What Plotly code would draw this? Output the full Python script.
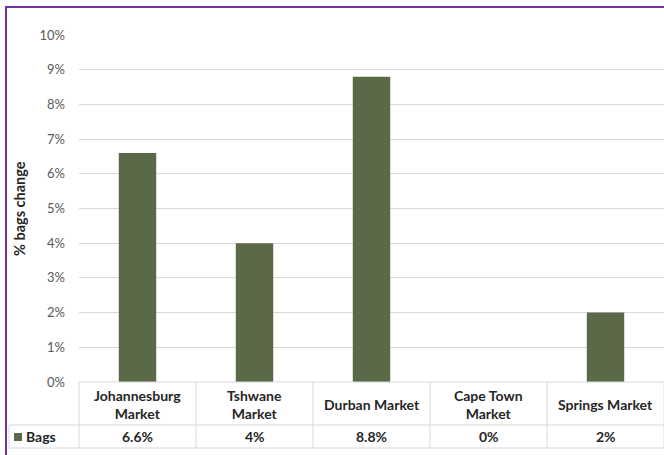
import plotly.graph_objects as go

categories = ["Johannesburg<br>Market", "Tshwane<br>Market", "Durban Market", "Cape Town<br>Market", "Springs Market"]
values = [6.6, 4, 8.8, 0, 2]
value_labels = ["6.6%", "4%", "8.8%", "0%", "2%"]
series_name = "Bags"
y_ticks = [0, 1, 2, 3, 4, 5, 6, 7, 8, 9, 10]

BAR = "#5A6A48"
GRID = "#D9D9D9"
PURPLE = "#7030A0"
TXT = "#262626"
FONT = "Lato, 'Open Sans', sans-serif"

W, H = 664, 455
L, R, T, B = 79, 0, 35, 73
pw, ph = W - L - R, H - T - B

def px_x(x):
    return (x - L) / pw

def px_y(y):
    return (H - B - y) / ph

x_idx = list(range(len(categories)))

fig = go.Figure()
fig.add_trace(go.Bar(
    x=x_idx, y=values, name=series_name,
    marker=dict(color=BAR, line=dict(width=0)),
    width=0.32, showlegend=False,
))

fig.update_layout(
    width=W, height=H,
    margin=dict(l=L, r=R, t=T, b=B),
    plot_bgcolor="white", paper_bgcolor="white",
    font=dict(family=FONT, size=12, color="#595959"),
    xaxis=dict(range=[-0.5, len(categories) - 0.5], showticklabels=False,
               showgrid=False, zeroline=False, showline=False, ticks=""),
    yaxis=dict(range=[0, 10], tickvals=y_ticks, ticktext=[f"{v}%" for v in y_ticks],
               showgrid=True, gridcolor=GRID, gridwidth=1, zeroline=False,
               showline=False, ticks="", ticklabelstandoff=13,
               tickfont=dict(size=13, color="#595959")),
)

shapes = []
row1_top = H - B
row1_bot = 425
row2_bot = 448
for yy, x0 in [(row1_top, L), (row1_bot, 9), (row2_bot, 9)]:
    shapes.append(dict(type="line", xref="paper", yref="paper",
                       x0=px_x(x0), x1=1, y0=px_y(yy), y1=px_y(yy),
                       line=dict(color=GRID, width=1)))
for i in range(len(categories) + 1):
    xx = L + i * pw / len(categories)
    shapes.append(dict(type="line", xref="paper", yref="paper",
                       x0=px_x(xx), x1=px_x(xx), y0=px_y(row1_top), y1=px_y(row2_bot),
                       line=dict(color=GRID, width=1)))
shapes.append(dict(type="line", xref="paper", yref="paper",
                   x0=px_x(9), x1=px_x(9), y0=px_y(row1_bot), y1=px_y(row2_bot),
                   line=dict(color=GRID, width=1)))
# legend key square
shapes.append(dict(type="rect", xref="paper", yref="paper",
                   x0=px_x(14), x1=px_x(22), y0=px_y(441), y1=px_y(433),
                   fillcolor=BAR, line=dict(width=0)))
# purple border
shapes.append(dict(type="line", xref="paper", yref="paper",
                   x0=px_x(6), x1=px_x(6), y0=px_y(6), y1=px_y(460),
                   line=dict(color=PURPLE, width=2)))
shapes.append(dict(type="line", xref="paper", yref="paper",
                   x0=px_x(5), x1=px_x(670), y0=px_y(7), y1=px_y(7),
                   line=dict(color=PURPLE, width=2)))

annotations = []
for i, (c, v) in enumerate(zip(categories, value_labels)):
    annotations.append(dict(x=i, xref="x", y=px_y(404), yref="paper", text=f"<b>{c}</b>",
                            showarrow=False, font=dict(size=14, color=TXT, family=FONT),
                            xanchor="center", yanchor="middle"))
    annotations.append(dict(x=i, xref="x", y=px_y(437), yref="paper", text=f"<b>{v}</b>",
                            showarrow=False, font=dict(size=14, color=TXT, family=FONT),
                            xanchor="center", yanchor="middle"))
annotations.append(dict(x=px_x(24), xref="paper", y=px_y(437), yref="paper",
                        text=f"<b>{series_name}</b>", showarrow=False,
                        font=dict(size=14, color=TXT, family=FONT),
                        xanchor="left", yanchor="middle"))
annotations.append(dict(x=px_x(19), xref="paper", y=px_y(209), yref="paper",
                        text="<b>% bags change</b>", textangle=-90, showarrow=False,
                        font=dict(size=14.5, color=TXT, family=FONT),
                        xanchor="center", yanchor="middle"))

fig.update_layout(shapes=shapes, annotations=annotations)
fig.write_html("out.html", config={"displayModeBar": False},
               post_script="document.body.style.margin='0';document.body.style.overflow='hidden';")
